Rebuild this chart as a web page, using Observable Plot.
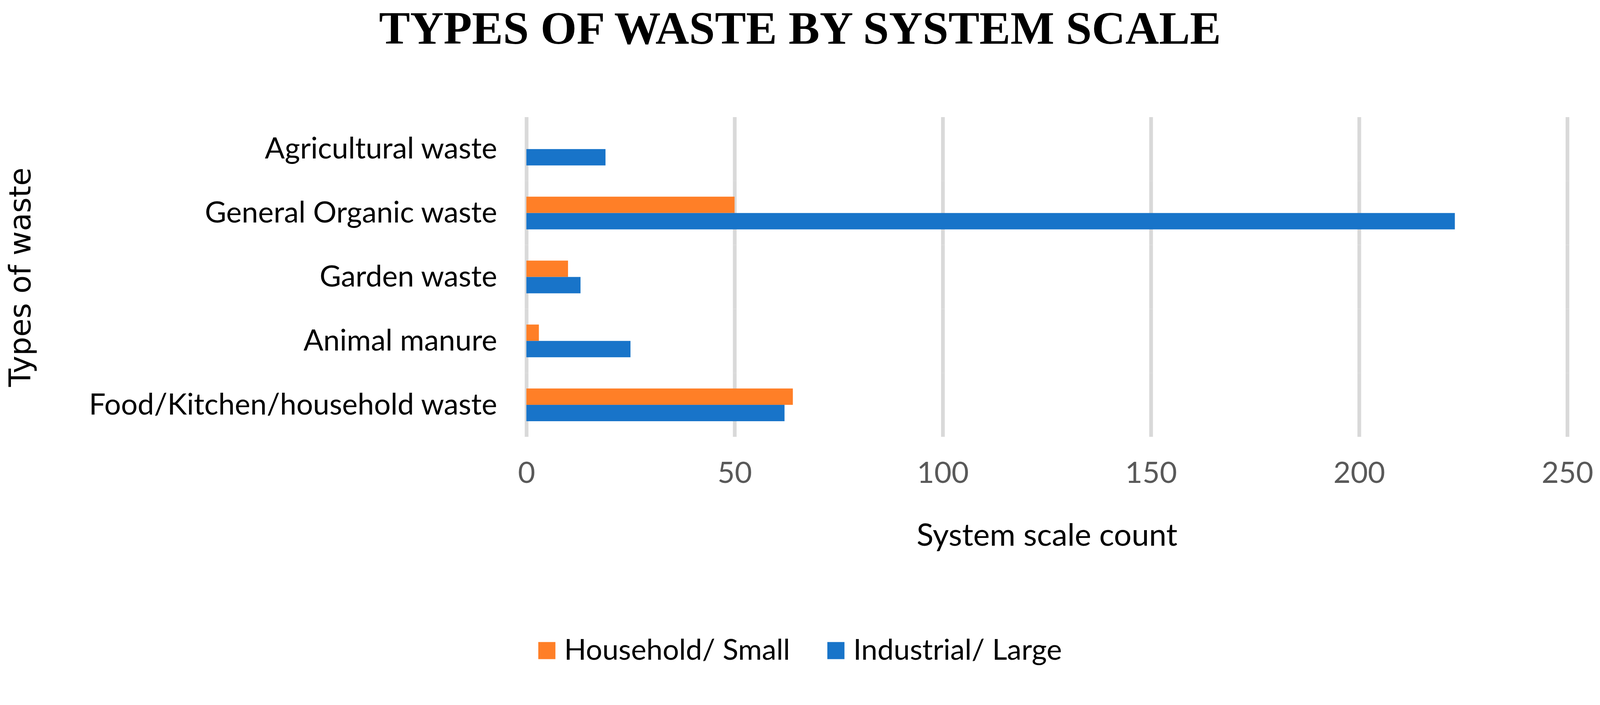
<!DOCTYPE html>
<html>
<head>
<meta charset="utf-8">
<script src="https://cdn.jsdelivr.net/npm/d3@7"></script>
<script src="https://cdn.jsdelivr.net/npm/@observablehq/plot@0.6"></script>
<style>
  html, body { margin: 0; padding: 0; background: #ffffff; overflow: hidden; }
  #page { width: 4301px; height: 1806px; transform-origin: 0 0; background: #ffffff; }
  #title {
    box-sizing: border-box; height: 160px; padding-top: 14px;
    font-family: "Liberation Serif", serif; font-weight: bold; font-size: 125px;
    line-height: 1; text-align: center; color: #000;
  }
  #chart svg { display: block; max-width: none !important; }
  #legend {
    margin-top: 175px; height: 100px; display: flex; justify-content: center; align-items: center;
    font-family: Lato, sans-serif; font-size: 78px; color: #000; padding-left: 0px;
  }
  .item { display: flex; align-items: center; margin: 0 50px; }
  .sw { width: 46px; height: 46px; margin-right: 24px; margin-top: 10px; }
</style>
</head>
<body>
<div id="page">
<div id="title">TYPES OF WASTE BY SYSTEM SCALE</div>
<div id="chart"></div>
<div id="legend"></div>
</div>
<script>
const categories = ["Agricultural waste", "General Organic waste", "Garden waste", "Animal manure", "Food/Kitchen/household waste"];
const seriesNames = ["Household/ Small", "Industrial/ Large"];
const seriesColors = ["#ff7f27", "#1874c9"];
const householdSmall = [0, 50, 10, 3, 64];
const industrialLarge = [19, 223, 13, 25, 62];
const xTicks = [0, 50, 100, 150, 200, 250];

const data = [];
categories.forEach((c, i) => {
  data.push({category: c, series: seriesNames[0], value: householdSmall[i]});
  data.push({category: c, series: seriesNames[1], value: industrialLarge[i]});
});

const chart = Plot.plot({
  width: 4301,
  height: 1360,
  marginTop: 153,
  marginBottom: 344,
  marginLeft: 1415,
  marginRight: 88,
  style: {fontFamily: "Lato, sans-serif", background: "#ffffff", color: "#000000"},
  x: {domain: [0, 250]},
  y: {domain: seriesNames, paddingInner: 0, paddingOuter: 0.94, axis: null},
  fy: {domain: categories, padding: 0},
  color: {domain: seriesNames, range: seriesColors},
  marks: [
    Plot.gridX(xTicks, {stroke: "#d9d9d9", strokeWidth: 10, strokeOpacity: 1}),
    Plot.barX(data, {x: "value", y: "series", fy: "category", fill: "series"}),
    Plot.axisX({ticks: xTicks, tickSize: 0, tickPadding: 67, fontSize: 80, fill: "#595959", label: null}),
    Plot.axisX({ticks: [], tickSize: 0, label: "System scale count", labelAnchor: "center", labelArrow: "none", labelOffset: 292, fontSize: 84, fill: "#000000"}),
    Plot.axisFy({anchor: "left", tickSize: 0, tickPadding: 79, fontSize: 79, fill: "#000000", label: null}),
    Plot.axisFy({anchor: "left", ticks: [], tickSize: 0, label: "Types of waste", labelAnchor: "center", labelArrow: "none", labelOffset: 1390, fontSize: 80, fontFamily: "DejaVu Sans", fill: "#000000"})
  ]
});
document.getElementById("chart").appendChild(chart);

const legend = document.getElementById("legend");
seriesNames.forEach((s, i) => {
  const item = document.createElement("div");
  item.className = "item";
  const sw = document.createElement("div");
  sw.className = "sw";
  sw.style.background = seriesColors[i];
  const t = document.createElement("span");
  t.textContent = s;
  item.appendChild(sw);
  item.appendChild(t);
  legend.appendChild(item);
});

// fit the 4301x1806 page to the actual viewport
function fit() {
  const s = Math.min(window.innerWidth / 4301, window.innerHeight / 1806);
  document.getElementById("page").style.transform = Math.abs(s - 1) > 0.001 ? `scale(${s})` : "";
}
fit();
window.addEventListener("resize", fit);
</script>
</body>
</html>
